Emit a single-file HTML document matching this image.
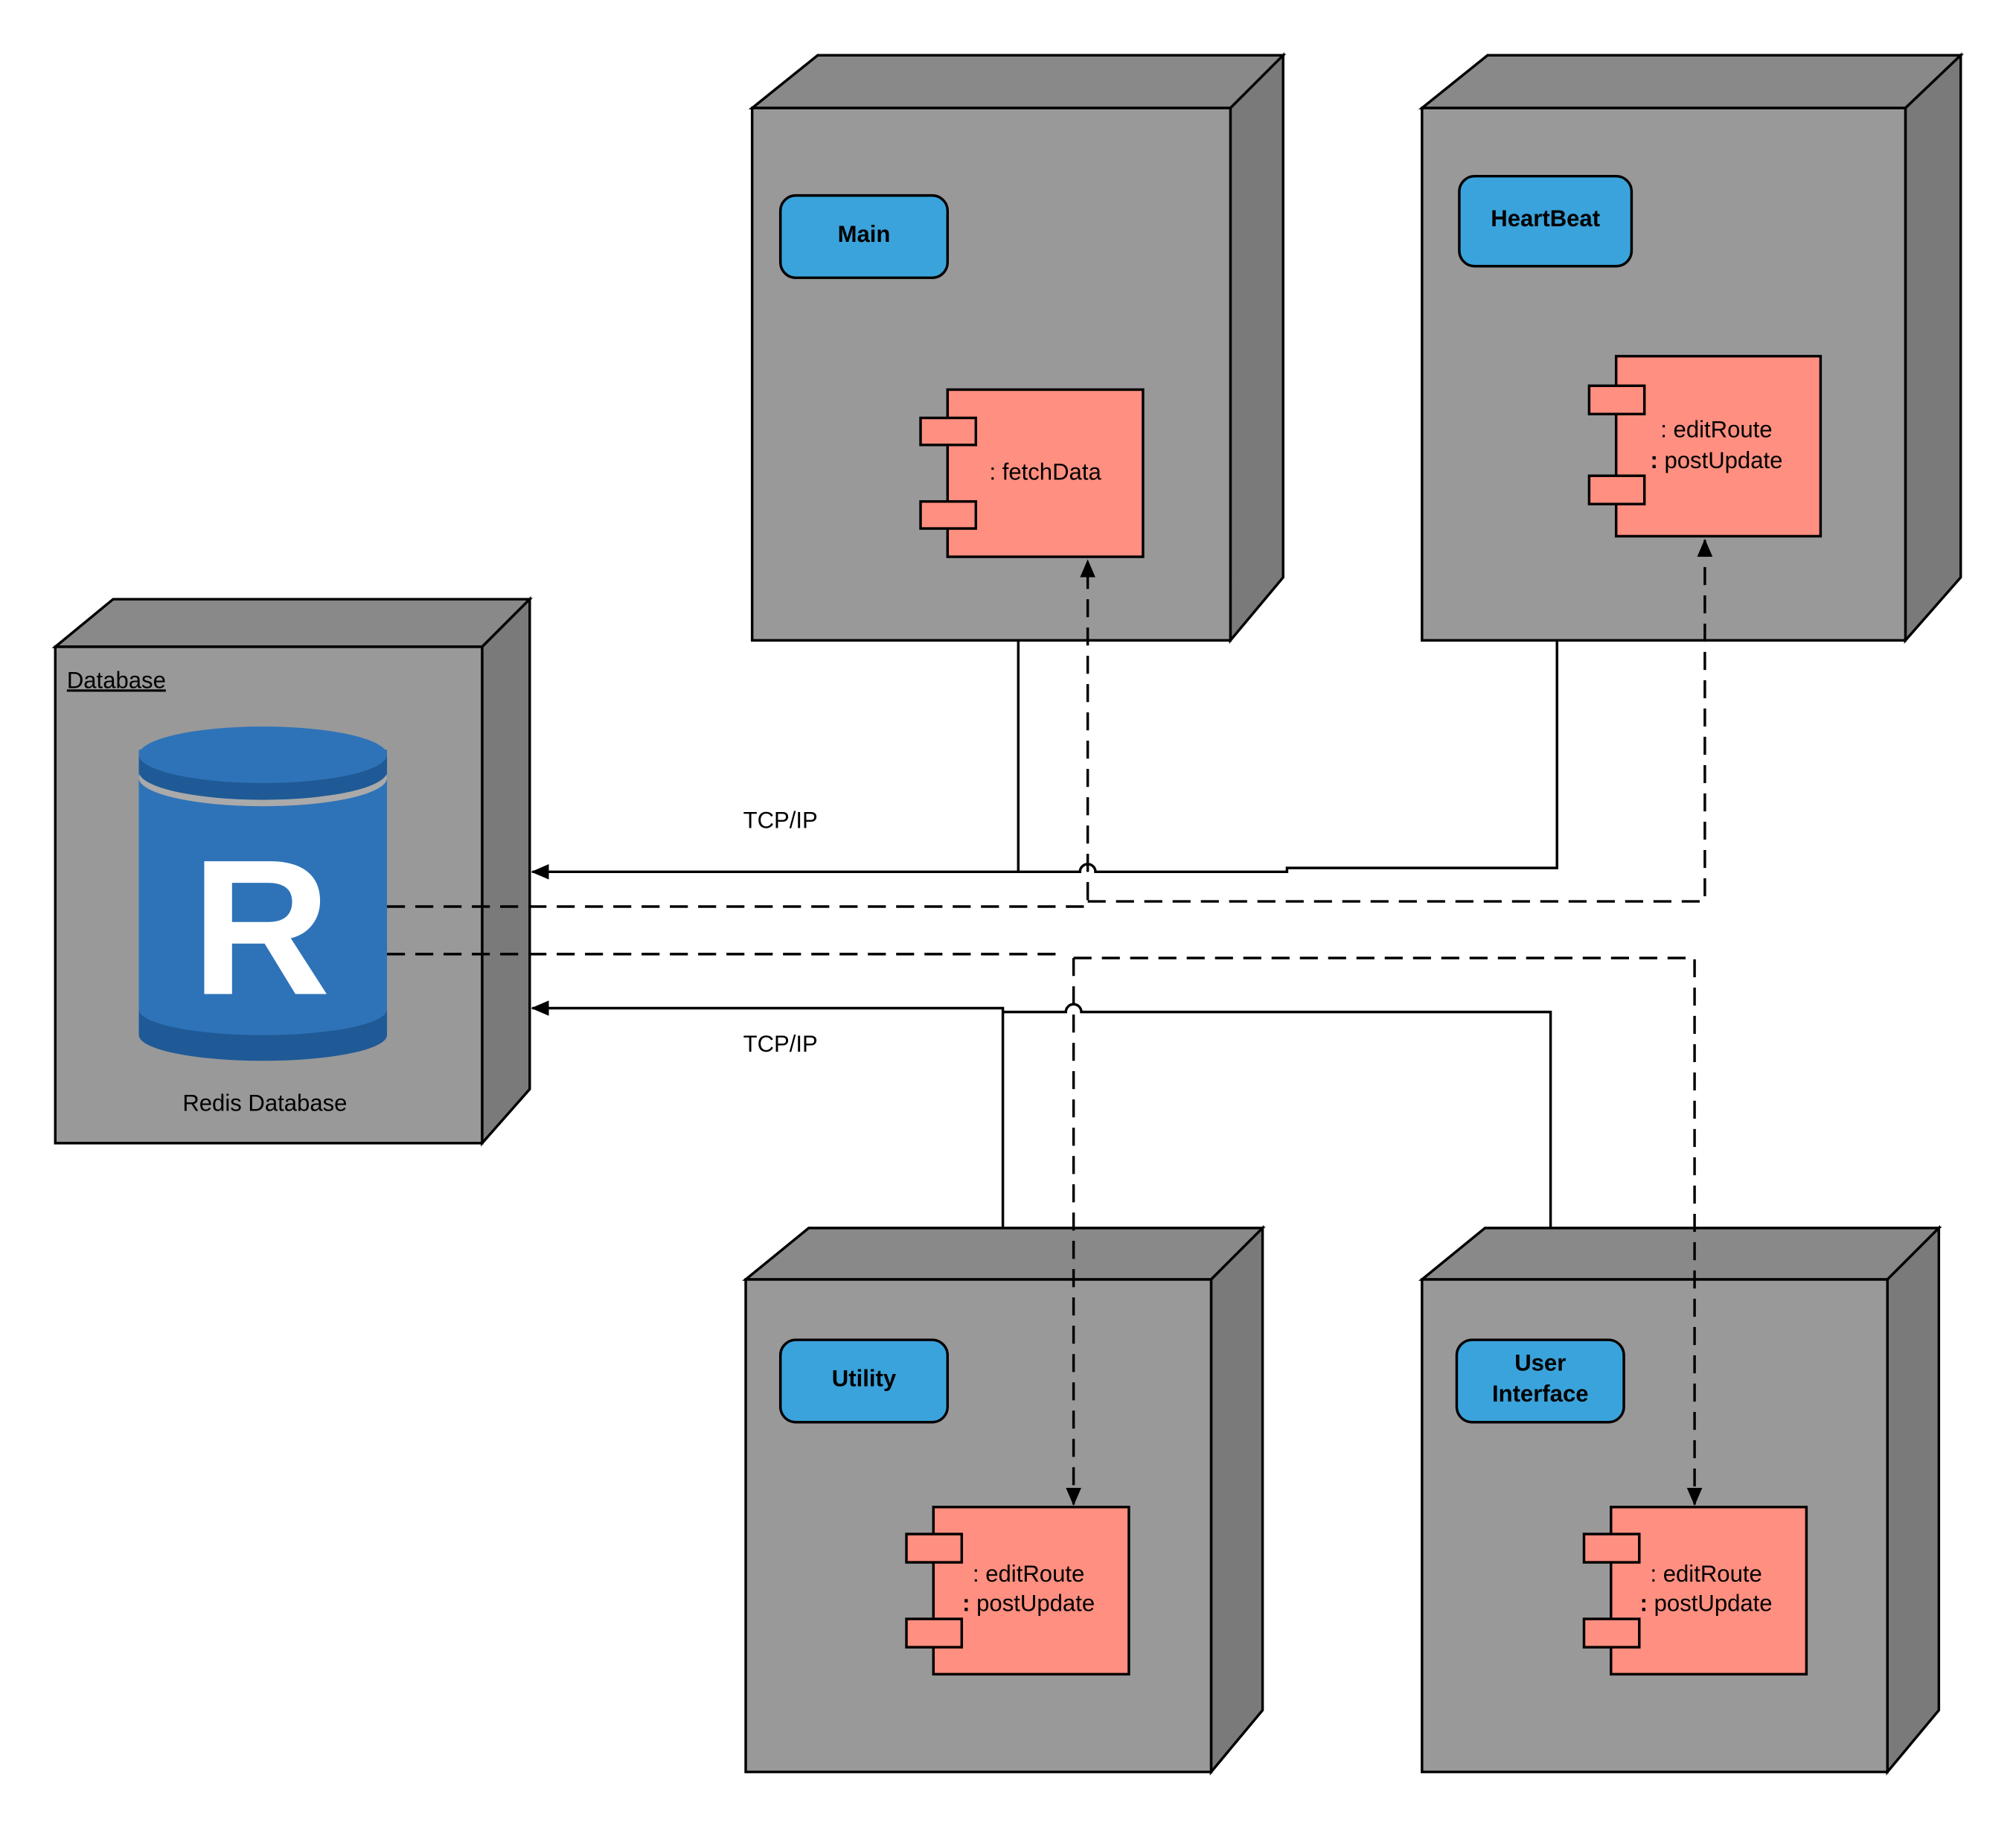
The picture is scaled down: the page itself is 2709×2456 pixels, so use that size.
<!DOCTYPE html>
<html><head><meta charset="utf-8"><style>html,body{margin:0;padding:0;background:#fff}svg{display:block}</style></head>
<body>
<svg width="2709" height="2456" viewBox="0 0 1568 1421.6" preserveAspectRatio="none" xmlns="http://www.w3.org/2000/svg" font-family="Liberation Sans, Arial, sans-serif">
<defs>
<marker id="ah" markerWidth="14" markerHeight="12" refX="13" refY="6" orient="auto" markerUnits="userSpaceOnUse"><path d="M0,0 L14,6 L0,12 Z" fill="#000"/></marker>
</defs>
<g stroke="#000" stroke-width="2">
<polygon points="585,84 636,43 998,43 957,84" fill="#898989"/>
<polygon points="957,84 998,43 998,449 957,498" fill="#7a7a7a"/>
<rect x="585" y="84" width="372" height="414" fill="#999"/>
<polygon points="1106,84 1157,43 1525,43 1482,84" fill="#898989"/>
<polygon points="1482,84 1525,43 1525,449 1482,498" fill="#7a7a7a"/>
<rect x="1106" y="84" width="376" height="414" fill="#999"/>
<polygon points="43,503 88,466 412,466 375,503" fill="#898989"/>
<polygon points="375,503 412,466 412,847 375,889" fill="#7a7a7a"/>
<rect x="43" y="503" width="332" height="386" fill="#999"/>
<polygon points="580,995 629,955 982,955 942,995" fill="#898989"/>
<polygon points="942,995 982,955 982,1330 942,1378" fill="#7a7a7a"/>
<rect x="580" y="995" width="362" height="383" fill="#999"/>
<polygon points="1106,995 1155,955 1508,955 1468,995" fill="#898989"/>
<polygon points="1468,995 1508,955 1508,1330 1468,1378" fill="#7a7a7a"/>
<rect x="1106" y="995" width="362" height="383" fill="#999"/>
<rect x="607" y="152" width="130" height="64" rx="12" fill="#3aa3db"/>
<rect x="1135" y="137" width="134" height="70" rx="12" fill="#3aa3db"/>
<rect x="607" y="1042" width="130" height="64" rx="12" fill="#3aa3db"/>
<rect x="1133" y="1042" width="130" height="64" rx="12" fill="#3aa3db"/>
<g fill="#ff8f80">
<rect x="737" y="303" width="152" height="130"/><rect x="716" y="325" width="43" height="21"/><rect x="716" y="390" width="43" height="21"/>
<rect x="1257" y="277" width="159" height="140"/><rect x="1236" y="300" width="43" height="22"/><rect x="1236" y="370" width="43" height="22"/>
<rect x="726" y="1172" width="152" height="130"/><rect x="705" y="1193" width="43" height="22"/><rect x="705" y="1259" width="43" height="22"/>
<rect x="1253" y="1172" width="152" height="130"/><rect x="1232" y="1193" width="43" height="22"/><rect x="1232" y="1259" width="43" height="22"/>
</g>
</g>
<rect x="108" y="583" width="193" height="222" fill="#2e73b8"/>
<ellipse cx="204.5" cy="805" rx="96.5" ry="20" fill="#1f5a96"/>
<rect x="108" y="785" width="193" height="20" fill="#1f5a96"/>
<ellipse cx="204.5" cy="785" rx="96.5" ry="20" fill="#2e73b8"/>
<ellipse cx="204.5" cy="605" rx="96.5" ry="28" fill="#aaa"/>
<ellipse cx="204.5" cy="600" rx="96.5" ry="22" fill="#1f5a96"/>
<path d="M108,605 A96.5,22 0 0 0 301,605 L301,640 L108,640Z" fill="#2e73b8"/>
<ellipse cx="204.5" cy="587" rx="96.5" ry="22" fill="#2e73b8"/>
<path d="M108,587 L108,598 A96.5,22 0 0 0 301,598 L301,587 A96.5,22 0 0 1 108,587Z" fill="#1f5a96"/>
<text x="203" y="773" font-size="150" font-weight="bold" fill="#fff" text-anchor="middle">R</text>
<g font-size="18" fill="#000">
<text x="52" y="535" text-decoration="underline">Database</text>
<text x="206" y="864" text-anchor="middle">Redis Database</text>
<text x="607" y="644" text-anchor="middle">TCP/IP</text>
<text x="607" y="818" text-anchor="middle">TCP/IP</text>
<text x="813" y="373" text-anchor="middle">: fetchData</text>
<text x="1335" y="340" text-anchor="middle">: editRoute</text>
<text x="1335" y="364" text-anchor="middle"><tspan font-weight="bold">:</tspan> postUpdate</text>
<text x="800" y="1230" text-anchor="middle">: editRoute</text>
<text x="800" y="1253" text-anchor="middle"><tspan font-weight="bold">:</tspan> postUpdate</text>
<text x="1327" y="1230" text-anchor="middle">: editRoute</text>
<text x="1327" y="1253" text-anchor="middle"><tspan font-weight="bold">:</tspan> postUpdate</text>
</g>
<g font-size="18" font-weight="bold" fill="#000" text-anchor="middle">
<text x="672" y="188">Main</text>
<text x="1202" y="176">HeartBeat</text>
<text x="672" y="1078">Utility</text>
<text x="1198" y="1066">User</text>
<text x="1198" y="1090">Interface</text>
</g>
<g fill="none" stroke="#000" stroke-width="2">
<path d="M792,498 L792,678 L414,678" marker-end="url(#ah)"/>
<path d="M1211,498 L1211,675 L1001,675 L1001,678 L852,678 A6,6 0 0 0 840,678 L792,678"/>
<path d="M780,955 L780,784 L414,784" marker-end="url(#ah)"/>
<path d="M1206,955 L1206,787 L841,787 A6,6 0 0 0 829,787 L780,787"/>
<g stroke-dasharray="14,8">
<path d="M301,705 L846,705 L846,436" marker-end="url(#ah)"/>
<path d="M846,701 L1326,701 L1326,420" marker-end="url(#ah)"/>
<path d="M301,742 L826,742"/>
<path d="M835,745 L1318,745 L1318,1170" marker-end="url(#ah)"/>
<path d="M835,745 L835,1170" marker-end="url(#ah)"/>
</g>
</g>
</svg>
</body></html>
